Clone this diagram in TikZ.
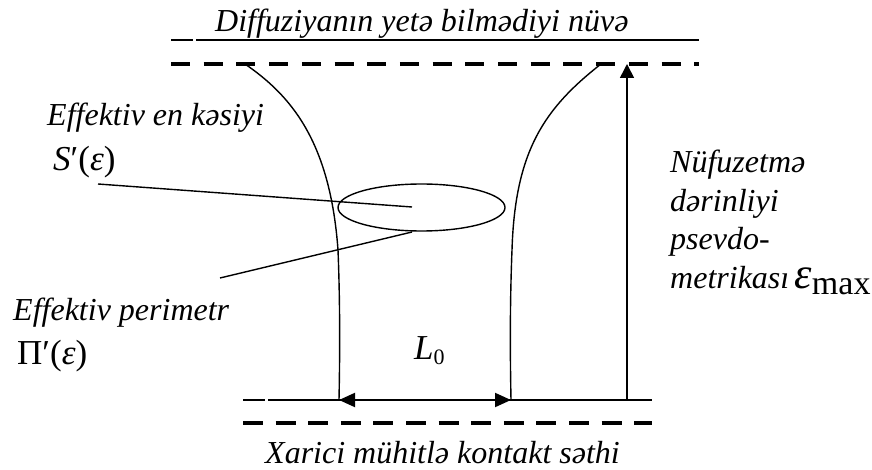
\documentclass[tikz,border=0pt]{standalone}
\usepackage{fontspec}
\setmainfont{Liberation Serif}
\usetikzlibrary{arrows.meta,shapes.geometric}
\begin{document}
\begin{tikzpicture}[x=1pt,y=-1pt,
  txt/.style={font=\fontsize{32}{38}\selectfont\itshape, inner sep=0pt, anchor=base west},
  mth/.style={font=\fontsize{35}{40}\selectfont, inner sep=0pt, anchor=base west},
  thinline/.style={line width=1.4pt},
  topdash/.style={line width=4pt, dash pattern=on 19pt off 13.7pt},
  botdash/.style={line width=4pt, dash pattern=on 20pt off 12.6pt},
  arr/.style={line width=1.6pt, -{Triangle[length=14pt,width=14pt]}},
  dblarr/.style={line width=2pt, {Triangle[length=16pt,width=14pt]}-{Triangle[length=16pt,width=14pt]}}
]
\useasboundingbox (0,0) rectangle (872,470);

% top and bottom boundaries
\draw[thinline] (171,40) -- (193,40);
\draw[thinline] (196,40) -- (699,40);
\draw[topdash] (171,64) -- (699,64);
\draw[thinline] (243,400) -- (265,400);
\draw[thinline] (268,400) -- (652,400);
\draw[botdash] (243,423) -- (652,423);

% channel walls
\coordinate (lt) at (245,64);
\coordinate (lb) at (339,400);
\coordinate (rt) at (601,64);
\coordinate (rb) at (511,400);
\draw[thinline] (lt) .. controls (290,95) and (330,140) .. (338,250)
  .. controls (340,300) and (340,350) .. (lb);
\draw[thinline] (rt) .. controls (545,108) and (515,150) .. (512,250)
  .. controls (510,300) and (510,350) .. (rb);

% cross-section ellipse
\node[draw, thinline, ellipse, minimum width=167pt, minimum height=47pt, inner sep=0pt] (ell) at (421.5,207.5) {};

% arrows
\coordinate (ab) at (627,400);
\coordinate (at) at (627,64);
\draw[arr] (ab) -- (at);
\draw[dblarr] (lb) -- (rb);

% texts
\node[txt] (top) at (215,32) {Diffuziyanın yetə bilmədiyi nüvə};
\node[txt] (bot) at (265,463) {Xarici mühitlə kontakt səthi};
\node[txt] (s1) at (47,126) {Effektiv en kəsiyi};
\node[mth] (s2) at (53,171) {\itshape S\upshape′(\itshape ε\upshape)};
\node[txt] (p1) at (13,320) {Effektiv perimetr};
\node[mth] (p2) at (17,364) {Π′(\itshape ε\upshape)};
\node[mth] (L0) at (414,359) {\itshape L\upshape\raisebox{-5pt}{\fontsize{22}{22}\selectfont 0}};
\node[txt] (r1) at (670,173) {Nüfuzetmə};
\node[txt] (r2) at (670,212) {dərinliyi};
\node[txt] (r3) at (670,250) {psevdo-};
\node[txt] (r4) at (670,288) {metrikası\,{\fontsize{44}{44}\selectfont ε}\raisebox{-6pt}{\upshape\fontsize{34}{34}\selectfont max}};

% leader lines
\coordinate (sa) at (98,184);
\coordinate (sb) at (412,207);
\coordinate (pa) at (220,278);
\coordinate (pb) at (412,232);
\draw[thinline] (sa) -- (sb);
\draw[thinline] (pa) -- (pb);
\end{tikzpicture}
\end{document}
